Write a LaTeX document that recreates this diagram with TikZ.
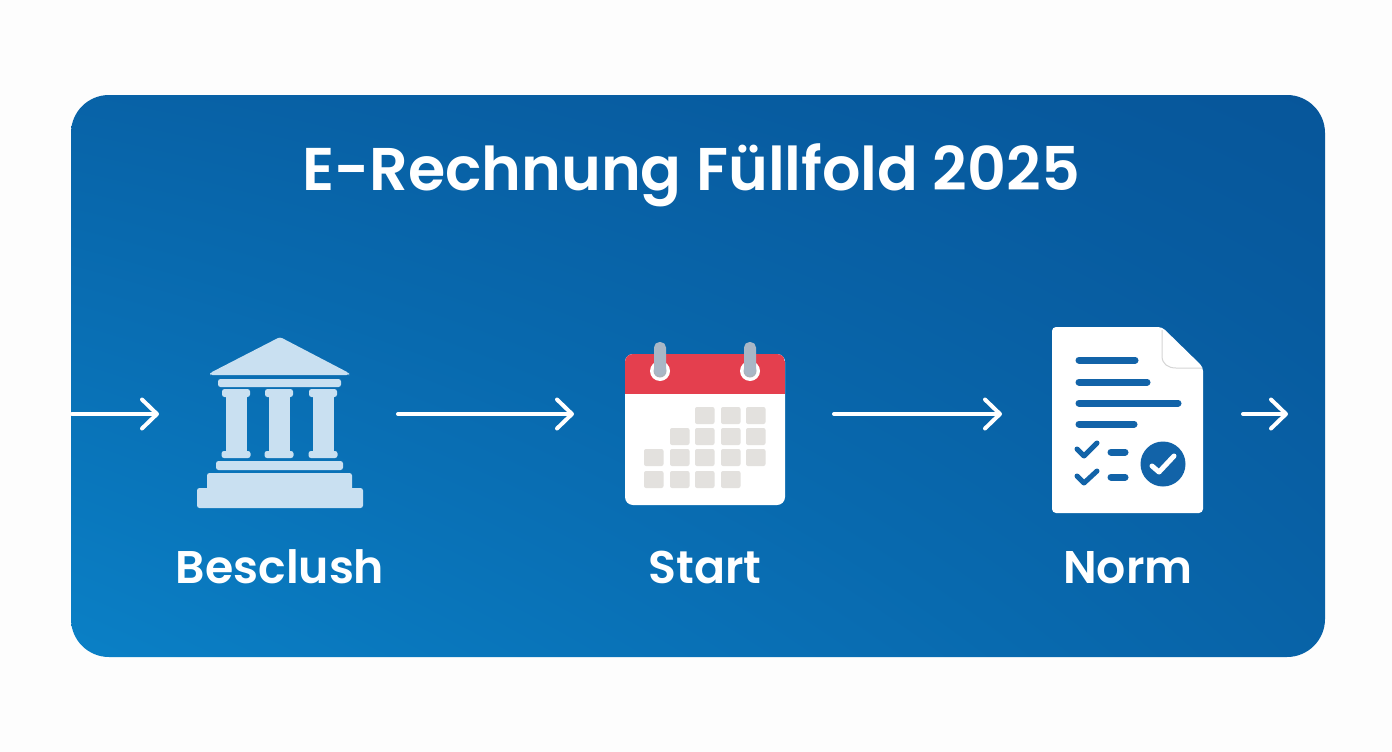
\documentclass[tikz,border=0pt]{standalone}
\usepackage{fontspec}
\setmainfont{Poppins}
\newfontfamily\medfont{Poppins SemiBold}
\usetikzlibrary{arrows.meta,shadings}
\definecolor{pagebg}{HTML}{FDFDFD}
\definecolor{paneldark}{HTML}{07569A}
\definecolor{panellight}{HTML}{0A80C6}
\definecolor{icolight}{HTML}{C9E0F1}
\definecolor{calred}{HTML}{E43F4E}
\definecolor{calrod}{HTML}{A9B7C6}
\definecolor{calcell}{HTML}{E3E1DE}
\definecolor{docblue}{HTML}{1263A8}
\definecolor{foldline}{HTML}{D5D5D5}
\tikzset{
  x=1pt,y=-1pt,
  flowarrow/.style={draw=white,line width=4pt,line cap=round,-{Straight Barb[length=15pt,width=29pt,line width=4pt,round]}},
  titletext/.style={text=white,font=\medfont\fontsize{60.3}{66}\selectfont,anchor=base},
  labeltext/.style={text=white,font=\medfont\fontsize{45.8}{52}\selectfont,anchor=base},
  temple/.style={fill=icolight,rounded corners=2.5pt},
  cell/.style={fill=calcell,rounded corners=2pt},
  docline/.style={draw=docblue,line width=7pt,line cap=round},
  checkmark/.style={draw=docblue,line width=5pt,line cap=round,line join=round},
}
\begin{document}
\begin{tikzpicture}
\useasboundingbox (0,0) rectangle (1392,752);
\fill[pagebg] (0,0) rectangle (1392,752);
% panel
\shade[rounded corners=38pt,lower left=panellight,lower right=paneldark!70!panellight,upper left=paneldark!70!panellight,upper right=paneldark]
  (71,95) rectangle (1325,657);
% title
\node[titletext] (title) at (691,190) {E-Rechnung Füllfold 2025};
% temple
\fill[temple] (280,337) -- (349,373) -- (349,375) -- (210,375) -- (210,373) -- cycle;
\fill[temple] (218,379) rectangle (341,387);
\foreach \cx in {236,279,323}{
  \fill[temple] (\cx-14,389) rectangle (\cx+14,397);
  \fill[icolight] (\cx-10.5,393) rectangle (\cx+10.5,455);
  \fill[temple] (\cx-14.5,451) rectangle (\cx+14.5,458);
}
\fill[temple] (216,461) rectangle (343,470);
\fill[temple] (207,473) rectangle (352,492);
\fill[temple] (197,488) rectangle (363,508);
% calendar
\fill[white,rounded corners=8pt] (625,354) rectangle (785,505);
\begin{scope}
  \clip[rounded corners=8pt] (625,354) rectangle (785,505);
  \fill[calred] (625,354) rectangle (785,394);
\end{scope}
\foreach \rx in {660,750}{
  \fill[white] (\rx,371) circle[radius=10];
  \fill[calrod!70!black!60!white] (\rx,371) circle[radius=6.5];
  \fill[calrod,rounded corners=5.5pt] (\rx-6,342) rectangle (\rx+6,376);
}
\foreach \cl/\rw in {695/407,721/407,746/407,670/428,695/428,721/428,746/428,644/449,670/449,695/449,721/449,746/449,644/471,670/471,695/471,721/471}{
  \fill[cell] (\cl,\rw) rectangle (\cl+19.5,\rw+17);
}
% document
\fill[white,rounded corners=4pt] (1052,327) -- (1162,327) -- (1203,367) -- (1203,513) -- (1052,513) -- cycle;
\draw[foldline,line width=1pt] (1162,330) -- (1162,356) .. controls (1162,364) and (1168,368) .. (1176,368) -- (1202,368);
\draw[docline] (1079,360) -- (1135,360);
\draw[docline] (1079,382) -- (1147,382);
\draw[docline] (1079,403) -- (1178,403);
\draw[docline] (1079,424) -- (1134,424);
\draw[checkmark] (1077,449) -- (1084,456) -- (1097,443);
\draw[checkmark] (1077,476) -- (1084,483) -- (1097,471);
\draw[docline] (1111,452) -- (1125,452);
\draw[docline] (1111,477) -- (1125,477);
\fill[docblue] (1163,464) circle[radius=22.5];
\draw[white,line width=5pt,line cap=round,line join=round] (1152,466) -- (1159,472) -- (1174,456);
% labels
\node[labeltext] (lab1) at (280,583) {Besclush};
\node[labeltext] (lab2) at (705,583) {Start};
\node[labeltext] (lab3) at (1128,583) {Norm};
% connectors
\coordinate (a0) at (72,414);   \coordinate (a1) at (159,414);
\coordinate (b0) at (398,414);  \coordinate (b1) at (574,414);
\coordinate (c0) at (834,414);  \coordinate (c1) at (1002,414);
\coordinate (d0) at (1243,414); \coordinate (d1) at (1288,414);
\draw[flowarrow] (a0) -- (a1);
\draw[flowarrow] (b0) -- (b1);
\draw[flowarrow] (c0) -- (c1);
\draw[flowarrow] (d0) -- (d1);
\end{tikzpicture}
\end{document}
